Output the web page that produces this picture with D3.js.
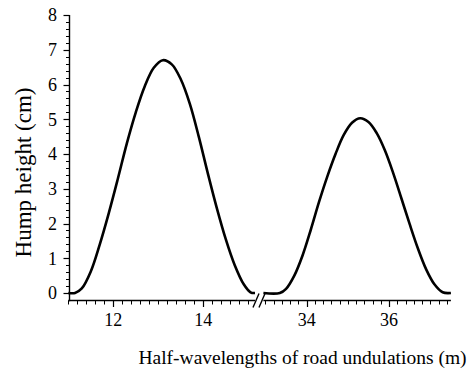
<!DOCTYPE html>
<html>
<head>
<meta charset="utf-8">
<script src="https://cdn.jsdelivr.net/npm/d3@7"></script>
<style>
  body { margin: 0; background: #fff; }
  svg text { font-family: "Liberation Serif", "Times New Roman", serif; fill: #000; }
</style>
</head>
<body>
<svg id="chart" width="472" height="369"></svg>
<script>
// left hump (short half-wavelengths)
const leftX = [11.0, 11.15, 11.3, 11.5, 11.7, 11.9, 12.1, 12.3, 12.5, 12.7, 12.9, 13.1, 13.3, 13.5, 13.7, 13.9, 14.1, 14.3, 14.5, 14.7, 14.9, 15.05, 15.15];
const leftY = [0, 0, 0.13, 0.62, 1.4, 2.3, 3.28, 4.3, 5.2, 5.95, 6.48, 6.7, 6.58, 6.15, 5.45, 4.5, 3.45, 2.45, 1.55, 0.8, 0.25, 0.02, 0];
// right hump (long half-wavelengths)
const rightX = [32.95, 33.35, 33.5, 33.7, 33.9, 34.1, 34.3, 34.5, 34.7, 34.9, 35.1, 35.3, 35.5, 35.7, 35.9, 36.1, 36.3, 36.5, 36.7, 36.9, 37.1, 37.3, 37.5];
const rightY = [0, 0, 0.12, 0.5, 1.08, 1.82, 2.62, 3.35, 4.0, 4.55, 4.9, 5.03, 4.92, 4.6, 4.1, 3.45, 2.72, 1.98, 1.28, 0.68, 0.25, 0.02, 0];

const yMajor = [0, 1, 2, 3, 4, 5, 6, 7, 8];
const xMajorLeft = [12, 14];
const xMajorRight = [34, 36];

const svg = d3.select("#chart");
const serif = "Liberation Serif";

const xL = d3.scaleLinear().domain([11, 15.15]).range([68.3, 255]);
const xR = d3.scaleLinear().domain([32.95, 37.5]).range([263.4, 450.9]);
const y = d3.scaleLinear().domain([0, 8]).range([293, 15]);
const axisX = 69.5, axisY = 300.5;

// y axis
const yMinor = d3.range(0, 40.5).map(d => d / 5);
const gy = svg.append("g");
gy.selectAll("line.minor").data(yMinor).enter().append("line")
  .attr("x1", axisX - 3.5).attr("x2", axisX)
  .attr("y1", d => Math.round(y(d)) + 0.5).attr("y2", d => Math.round(y(d)) + 0.5)
  .attr("stroke", "#000").attr("stroke-width", 1);
gy.selectAll("line.major").data(yMajor).enter().append("line")
  .attr("x1", axisX - 6).attr("x2", axisX)
  .attr("y1", d => Math.round(y(d)) + 0.5).attr("y2", d => Math.round(y(d)) + 0.5)
  .attr("stroke", "#000").attr("stroke-width", 1.2);
gy.selectAll("text").data(yMajor).enter().append("text")
  .attr("x", axisX - 12.5).attr("y", d => y(d))
  .attr("dy", "0.35em")
  .attr("text-anchor", "end")
  .attr("font-family", serif)
  .attr("font-size", 18)
  .text(d => d);
gy.append("line")
  .attr("x1", axisX).attr("x2", axisX)
  .attr("y1", y(8)).attr("y2", axisY + 0.7)
  .attr("stroke", "#000").attr("stroke-width", 1.4);

// x axes, one per segment
function xAxis(scale, major, lo, hi) {
  const minor = d3.range(Math.ceil(lo * 5), Math.floor(hi * 5) + 1).map(d => d / 5);
  const g = svg.append("g");
  g.selectAll("line.minor").data(minor).enter().append("line")
    .attr("x1", d => Math.round(scale(d)) + 0.5).attr("x2", d => Math.round(scale(d)) + 0.5)
    .attr("y1", axisY).attr("y2", axisY + 4)
    .attr("stroke", "#000").attr("stroke-width", 1);
  g.selectAll("line.major").data(major).enter().append("line")
    .attr("x1", d => Math.round(scale(d)) + 0.5).attr("x2", d => Math.round(scale(d)) + 0.5)
    .attr("y1", axisY).attr("y2", axisY + 6.5)
    .attr("stroke", "#000").attr("stroke-width", 1.2);
  g.selectAll("text").data(major).enter().append("text")
    .attr("x", d => scale(d)).attr("y", axisY + 25)
    .attr("text-anchor", "middle")
    .attr("font-family", serif)
    .attr("font-size", 18)
    .text(d => d);
  g.append("line")
    .attr("x1", scale.range()[0]).attr("x2", scale.range()[1])
    .attr("y1", axisY).attr("y2", axisY)
    .attr("stroke", "#000").attr("stroke-width", 1.4);
}
xAxis(xL, xMajorLeft, 11, 15.15);
xAxis(xR, xMajorRight, 32.95, 37.5);

// break marks
const b0 = xL.range()[1];
[b0 + 1, b0 + 7].forEach(bx => {
  svg.append("line")
    .attr("x1", bx - 3).attr("y1", axisY + 7)
    .attr("x2", bx + 3).attr("y2", axisY - 7)
    .attr("stroke", "#000").attr("stroke-width", 1.4);
});

// curves
const line = (sx) => d3.line().x(d => sx(d[0])).y(d => y(d[1])).curve(d3.curveCatmullRom.alpha(0.5));
svg.append("path")
  .datum(d3.zip(leftX, leftY))
  .attr("d", line(xL))
  .attr("fill", "none").attr("stroke", "#000").attr("stroke-width", 2.6);
svg.append("path")
  .datum(d3.zip(rightX, rightY))
  .attr("d", line(xR))
  .attr("fill", "none").attr("stroke", "#000").attr("stroke-width", 2.6);

// axis titles
svg.append("text")
  .attr("x", 302.5).attr("y", 364)
  .attr("text-anchor", "middle")
  .attr("font-family", serif)
  .attr("font-size", 19.5)
  .text("Half-wavelengths of road undulations (m)");
svg.append("text")
  .attr("transform", "translate(31,172.5) rotate(-90)")
  .attr("text-anchor", "middle")
  .attr("font-family", serif)
  .attr("font-size", 23)
  .text("Hump height (cm)");
</script>
</body>
</html>
